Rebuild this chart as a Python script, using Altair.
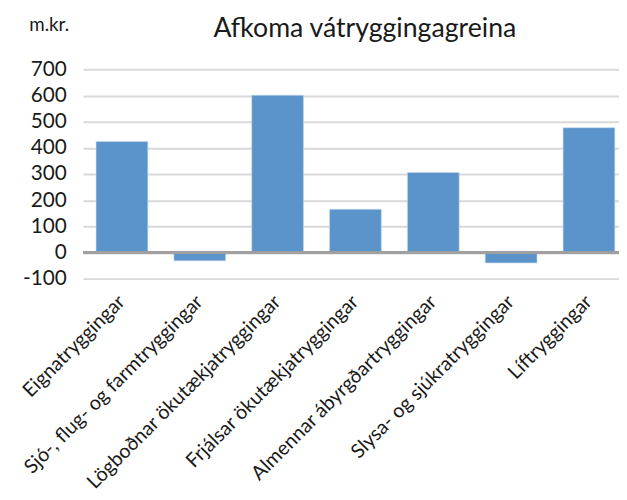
import altair as alt
import pandas as pd

categories = [
    "Eignatryggingar",
    "Sjó-, flug- og farmtryggingar",
    "Lögboðnar ökutækjatryggingar",
    "Frjálsar ökutækjatryggingar",
    "Almennar ábyrgðartryggingar",
    "Slysa- og sjúkratryggingar",
    "Líftryggingar",
]
values = [424, -32, 601, 165, 306, -40, 477]
y_ticks = [-100, 0, 100, 200, 300, 400, 500, 600, 700]

df = pd.DataFrame({"cat": categories, "val": values})

FONT = "Lato"
TXT = "#1a1a1a"

bars = alt.Chart(df).mark_bar(color="#5b94cb", stroke="#c5d9ee", strokeWidth=0.6).encode(
    x=alt.X(
        "cat:N",
        sort=categories,
        scale=alt.Scale(range=[0, 552], paddingInner=0.335, paddingOuter=0.1675),
        axis=alt.Axis(
            title=None, labelAngle=-45, labelAlign="right", labelBaseline="middle",
            labelFontSize=20, labelFont=FONT, labelColor=TXT, ticks=False, domain=False,
            labelPadding=20, labelLimit=400, grid=False,
        ),
    ),
    y=alt.Y(
        "val:Q",
        scale=alt.Scale(domain=[-100, 700], nice=False, zero=False),
        axis=alt.Axis(
            title="m.kr.", titleAngle=0, titleAlign="left", titleBaseline="alphabetic",
            titleX=-55, titleY=-39, titleFont=FONT, titleFontSize=19, titleFontWeight="normal",
            titleColor=TXT, values=y_ticks, tickCount=20, labelFontSize=21, labelFont=FONT,
            labelColor=TXT, labelExpr="datum.value + ''", labelOverlap=False, labelSeparation=0,
            ticks=False, domain=False, labelPadding=17, gridColor="#d9d9d9", gridWidth=2,
        ),
    ),
)

zero = alt.Chart(df).mark_rule(color="#a0a0a0", strokeWidth=2).encode(y=alt.YDatum(0))

chart = alt.layer(bars, zero).properties(
    width=543,
    height=212,
    autosize=alt.AutoSizeParams(type="none"),
    padding={"left": 76, "top": 59, "right": 0, "bottom": 213},
    title=alt.TitleParams(
        "Afkoma vátryggingagreina", font=FONT, fontSize=27, fontWeight="normal",
        color=TXT, offset=-27, dx=14,
    ),
).configure_view(stroke=None).configure_axis(labelOverlap=False)

chart.save("out.html", embed_options={"renderer": "svg", "actions": False})
